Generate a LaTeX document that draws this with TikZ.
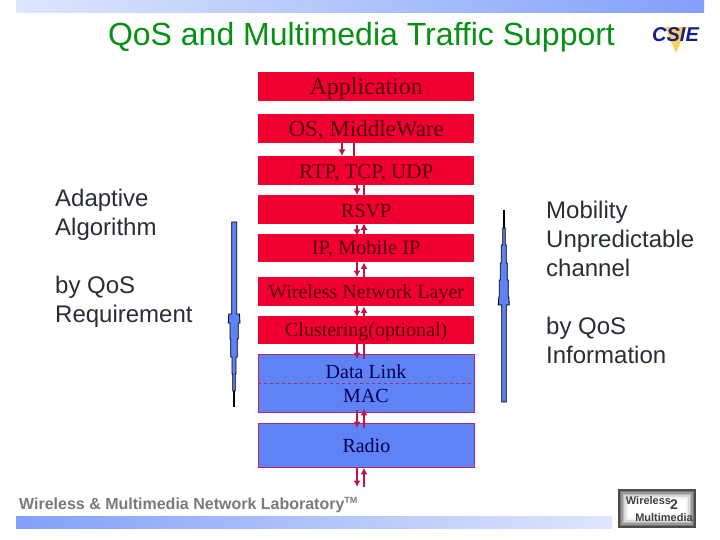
\documentclass[tikz,border=0pt]{standalone}
\usepackage{fontspec}
\setmainfont{Liberation Serif}
\setsansfont{Liberation Sans}
\usetikzlibrary{arrows.meta}
\definecolor{redbox}{RGB}{240,0,48}
\definecolor{bluebox}{RGB}{95,130,245}
\definecolor{linkc}{RGB}{190,20,70}
\definecolor{edgec}{RGB}{170,40,120}
\definecolor{barblue}{RGB}{130,160,250}
\definecolor{barpale}{RGB}{222,230,252}
\definecolor{titlegreen}{RGB}{5,145,20}
\definecolor{darkred}{RGB}{85,0,18}
\definecolor{navytext}{RGB}{0,0,80}
\definecolor{sidegrey}{RGB}{40,45,55}
\definecolor{logoyellow}{RGB}{250,210,90}
\definecolor{logonavy}{RGB}{20,30,140}
\newcommand{\lowered}[2]{\raisebox{-#1pt}[\height][\depth]{#2}}
\tikzset{
 x=1pt,y=-1pt,
 redlayer/.style={fill=redbox,draw=none,minimum width=216pt,inner sep=0pt,anchor=north west,text=darkred},
 bluelayer/.style={fill=bluebox,draw=edgec,line width=0.8pt,minimum width=216pt,inner sep=0pt,anchor=north west,text=navytext},
 sidetext/.style={anchor=north west,align=left,font=\sffamily\fontsize{24}{29}\selectfont,text=sidegrey,inner sep=0pt},
 downlink/.style={draw=linkc,line width=1.4pt,-{Latex[length=6.5pt,width=7pt]}},
 uplink/.style={draw=linkc,line width=1.4pt,{Latex[length=6.5pt,width=7pt]}-},
 plainlink/.style={draw=linkc,line width=1.4pt},
 slim/.style={fill=bluebox,draw=black,line width=0.85pt},
 fs/.style={font=\fontsize{#1}{#1}\selectfont},
}
\begin{document}
\begin{tikzpicture}
\useasboundingbox (0,0) rectangle (720,540);
\fill[white] (0,0) rectangle (720,540);
% bars
\shade[left color=barpale,right color=barblue] (16,0) rectangle (704,13);
\shade[left color=barblue,right color=barpale] (16,516) rectangle (612,528);
\node[anchor=center,inner sep=0pt,text=titlegreen,font=\sffamily\fontsize{32}{32}\selectfont] (title) at (361.5,37) {QoS and Multimedia Traffic Support};
\coordinate (endd) at (357,487);
\coordinate (endu) at (364,487);
% layers
\node[redlayer,minimum height=29pt,fs=24] (app) at (258,72) {\lowered{2}{Application}};
\node[redlayer,minimum height=29pt,fs=23] (os) at (258,114) {\lowered{2}{OS, MiddleWare}};
\node[redlayer,minimum height=29pt,fs=21] (rtp) at (258,156) {\lowered{2}{RTP, TCP, UDP}};
\node[redlayer,minimum height=29pt,fs=20] (rsvp) at (258,195) {\lowered{1}{RSVP}};
\node[redlayer,minimum height=28pt,fs=20.5] (ip) at (258,234) {\lowered{1}{IP, Mobile IP}};
\node[redlayer,minimum height=29pt,fs=20] (wnl) at (258,277) {\lowered{2}{Wireless Network Layer}};
\node[redlayer,minimum height=28pt,fs=20] (clu) at (258,316) {\lowered{2}{Clustering(optional)}};
\node[bluelayer,minimum height=58pt] (dl) at (258,354) {};
\node[anchor=center,text=navytext,fs=20,inner sep=0pt] (dltext) at (366,372) {Data Link};
\node[anchor=center,text=navytext,fs=20,inner sep=0pt] (mactext) at (366,396) {MAC};
\draw[edgec,dashed,line width=0.7pt] (dl.west |- 0,383) -- (dl.east |- 0,383);
\node[bluelayer,minimum height=44pt,fs=20] (radio) at (258,423) {Radio};
% links
\draw[downlink] (os.south -| 342,0) -- (rtp.north -| 342,0);
\draw[plainlink] (os.south -| 354,0) -- (rtp.north -| 354,0);
\draw[downlink] (rtp.south -| 357,0) -- (rsvp.north -| 357,0);
\draw[plainlink] (rtp.south -| 364,0) -- (rsvp.north -| 364,0);
\draw[downlink] ([yshift=-1pt]rsvp.south -| 357,0) -- ([yshift=-2pt]ip.north -| 357,0);
\draw[uplink] ([yshift=1pt]rsvp.south -| 364,0) -- (ip.north -| 364,0);
\draw[downlink] (ip.south -| 357,0) -- (wnl.north -| 357,0);
\draw[uplink] (ip.south -| 364,0) -- (wnl.north -| 364,0);
\draw[downlink] (wnl.south -| 357,0) -- ([yshift=-1pt]clu.north -| 357,0);
\draw[uplink] (wnl.south -| 364,0) -- (clu.north -| 364,0);
\draw[downlink] (clu.south -| 357,0) -- ([yshift=-5pt]dl.north -| 357,0);
\draw[plainlink] (clu.south -| 364,0) -- ([yshift=-5pt]dl.north -| 364,0);
\draw[downlink] ([yshift=3pt]dl.south -| 357,0) -- ([yshift=-5pt]radio.north -| 357,0);
\draw[uplink] ([yshift=4pt]dl.south -| 364,0) -- ([yshift=-5pt]radio.north -| 364,0);
\draw[downlink] (radio.south -| 357,0) -- (endd);
\draw[uplink] (radio.south -| 364,0) -- (endu);
% side text
\node[sidetext] (ltop) at (55,189) {Adaptive\\Algorithm};
\node[sidetext] (lbot) at (55,276) {by QoS\\Requirement};
\node[sidetext] (rtop) at (546,201) {Mobility\\Unpredictable\\channel};
\node[sidetext] (rbot) at (546,317) {by QoS\\Information};
% slim arrows
\draw[black,line width=1.3pt] (234,391) -- (234,407);
\draw[slim] (231.7,222) -- (236.7,222) -- (236.7,314) -- (239.5,314) -- (240,323) -- (238.3,323) -- (238.3,339) -- (237.3,339) -- (237.3,357) -- (236,357) -- (236,374) -- (235.3,374) -- (235.3,391) -- (232.7,391) -- (232.7,374) -- (232,374) -- (232,357) -- (230.7,357) -- (230.7,339) -- (230,339) -- (230,323) -- (228.3,323) -- (228.8,314) -- (231.7,314) -- cycle;
\draw[black,line width=1.3pt] (504,210) -- (504,228);
\draw[slim] (501.7,402) -- (506.3,402) -- (506.3,305) -- (509.3,305) -- (508.8,297) -- (508.3,297) -- (508.3,280) -- (507.3,280) -- (507.3,263) -- (506.3,263) -- (506.3,245) -- (505.3,245) -- (505.3,228) -- (502.7,228) -- (502.7,245) -- (501.3,245) -- (501.3,263) -- (500.3,263) -- (500.3,280) -- (499.3,280) -- (499.3,297) -- (498.8,297) -- (498.3,305) -- (501.7,305) -- cycle;
% footer text
\node[anchor=west,inner sep=0pt,text=black!52,font=\sffamily\bfseries\fontsize{16}{16}\selectfont] (foot) at (19,505) {Wireless \& Multimedia Network Laboratory\textsuperscript{\fontsize{9}{9}\selectfont TM}};
% csie logo
\fill[logoyellow] (665,27) -- (687,27) -- (676,53) -- cycle;
\node[inner sep=0pt,text=logonavy,font=\sffamily\bfseries\itshape\fontsize{20}{20}\selectfont] (csie) at (675.5,34.5) {CSIE};
% wireless logo
\foreach \i/\s in {0/70,1/55,2/40,3/27,4/15,5/6,6/0}{
  \fill[black!\s] ({618+\i*1.6},{489+\i*1.6}) rectangle ({696-\i*1.6},{528-\i*1.6});
}
\node[inner sep=0pt,text=black!75,font=\sffamily\bfseries\fontsize{11}{11}\selectfont] (wl) at (648.5,501) {Wireless};
\node[inner sep=0pt,text=black!75,font=\sffamily\bfseries\fontsize{14}{14}\selectfont] (two) at (674,505) {2};
\node[inner sep=0pt,text=black!75,font=\sffamily\bfseries\fontsize{11}{11}\selectfont] (mm) at (664,517.5) {Multimedia};
\end{tikzpicture}
\end{document}
